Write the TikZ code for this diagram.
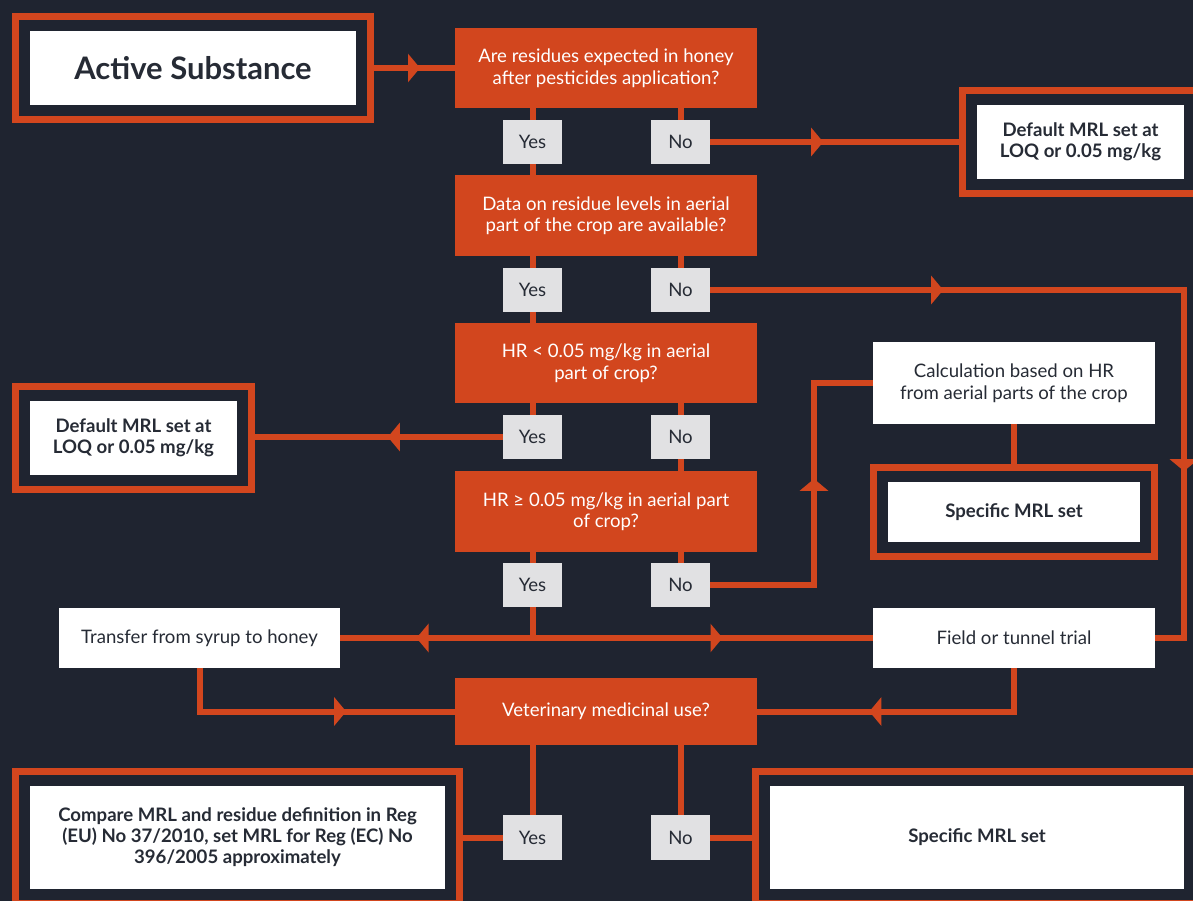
\documentclass[tikz,border=0pt]{standalone}
\usepackage{fontspec}
\setmainfont{Lato}
\usetikzlibrary{arrows.meta,decorations.markings}
\definecolor{bg}{HTML}{1F2430}
\definecolor{org}{HTML}{D2461E}
\definecolor{gry}{HTML}{E1E1E3}
\definecolor{dk}{HTML}{262B35}
\tikzset{
  conn/.style={draw=org, line width=6pt},
  arrat/.style={postaction={decorate,decoration={markings,
      mark=at position #1 with {\arrow[color=org]{Triangle[width=28pt,length=12pt]}}}}},
  qbox/.style={fill=org, text=white, inner sep=0pt, minimum width=302pt, align=center,
      font=\fontsize{18.6}{21.5}\selectfont},
  yn/.style={fill=gry, text=dk, inner sep=0pt, minimum width=59pt, minimum height=44pt,
      font=\fontsize{18.6}{21.5}\selectfont},
  wbox/.style={fill=white, text=dk, inner sep=0pt, align=center,
      font=\fontsize{18.6}{21.5}\selectfont},
  bwbox/.style={wbox, font=\fontsize{18.6}{21}\selectfont\bfseries},
  frame/.style={draw=org, line width=7pt, inner sep=0pt},
}
\begin{document}
\begin{tikzpicture}[x=1pt,y=-1pt]
\useasboundingbox (0,0) rectangle (1193,901);
\fill[bg] (0,0) rectangle (1193,901);
\clip (0,0) rectangle (1193,901);

% frames
\node[frame, minimum width=355pt, minimum height=103pt] (ActF) at (193,68) {};
\node[frame, minimum width=249pt, minimum height=103pt] (TRF) at (1087,142) {};
\node[frame, minimum width=236pt, minimum height=103pt] (LF) at (133.5,438) {};
\node[frame, minimum width=281pt, minimum height=89pt] (SMF) at (1014,512) {};
\node[frame, minimum width=444pt, minimum height=132pt] (CmpF) at (237.5,837.5) {};
\node[frame, minimum width=456pt, minimum height=132pt] (SBF) at (983.5,837.5) {};

% white boxes
\node[bwbox, minimum width=326pt, minimum height=74pt, font=\fontsize{31}{35}\selectfont\bfseries] (Act) at (193,68) {Active Substance};
\node[bwbox, minimum width=207pt, minimum height=74pt] (TRD) at (1080.5,142) {Default MRL set at\\LOQ or 0.05 mg/kg};
\node[bwbox, minimum width=207pt, minimum height=74pt] (LD) at (133.5,438) {Default MRL set at\\LOQ or 0.05 mg/kg};
\node[bwbox, minimum width=252pt, minimum height=60pt] (SM) at (1014,512) {Specific MRL set};
\node[bwbox, minimum width=415pt, minimum height=103pt] (Cmp) at (237.5,837.5) {Compare MRL and residue definition in Reg\\(EU) No 37/2010, set MRL for Reg (EC) No\\396/2005 approximately};
\node[bwbox, minimum width=414pt, minimum height=103pt] (SB) at (977,837.5) {Specific MRL set};
\node[wbox, minimum width=282pt, minimum height=82pt] (Calc) at (1014,383) {Calculation based on HR\\from aerial parts of the crop};
\node[wbox, minimum width=281pt, minimum height=60pt] (Tr) at (199.5,638) {Transfer from syrup to honey};
\node[wbox, minimum width=282pt, minimum height=60pt] (Fld) at (1014,638) {Field or tunnel trial};

% questions
\node[qbox, minimum height=80pt] (Q1) at (606,68) {Are residues expected in honey\\after pesticides application?};
\node[qbox, minimum height=81pt] (Q2) at (606,215.5) {Data on residue levels in aerial\\part of the crop are available?};
\node[qbox, minimum height=80pt] (Q3) at (606,363) {HR < 0.05 mg/kg in aerial\\part of crop?};
\node[qbox, minimum height=81pt] (Q4) at (606,511.5) {HR ≥ 0.05 mg/kg in aerial part\\of crop?};
\node[qbox, minimum height=67pt] (Q5) at (606,711.5) {Veterinary medicinal use?};

% yes / no
\node[yn] (Y1) at (532.5,142) {Yes};
\node[yn] (N1) at (680.5,142) {No};
\node[yn] (Y2) at (532.5,290) {Yes};
\node[yn] (N2) at (680.5,290) {No};
\node[yn] (Y3) at (532.5,437) {Yes};
\node[yn] (N3) at (680.5,437) {No};
\node[yn] (Y4) at (532.5,585) {Yes};
\node[yn] (N4) at (680.5,585) {No};
\node[yn, minimum height=45pt] (Y5) at (532.5,837.5) {Yes};
\node[yn, minimum height=45pt] (N5) at (680.5,837.5) {No};

\coordinate (RC) at (1184,290);
\coordinate (CL) at (814,585);
\coordinate (J) at (Y4.south |- Tr.east);

% connectors
\draw[conn, arrat=46pt] (ActF.east) -- (Q1.west);
\draw[conn] (Y1.north |- Q1.south) -- (Y1.north);
\draw[conn] (N1.north |- Q1.south) -- (N1.north);
\draw[conn] (Y1.south) -- (Y1.south |- Q2.north);
\draw[conn, arrat=113pt] (N1.east) -- (N1.east -| TRF.west);

\draw[conn] (Y2.north |- Q2.south) -- (Y2.north);
\draw[conn] (N2.north |- Q2.south) -- (N2.north);
\draw[conn] (Y2.south) -- (Y2.south |- Q3.north);
\draw[conn, arrat=233pt, arrat=655pt] (N2.east) -- (RC) |- (Fld.east);

\draw[conn] (Y3.north |- Q3.south) -- (Y3.north);
\draw[conn] (N3.north |- Q3.south) -- (N3.north);
\draw[conn] (N3.south) -- (N3.south |- Q4.north);
\draw[conn, arrat=115pt] (Y3.west) -- (Y3.west -| LF.east);

\draw[conn] (Y4.north |- Q4.south) -- (Y4.north);
\draw[conn] (N4.north |- Q4.south) -- (N4.north);
\draw[conn, arrat=210pt] (N4.east) -- (CL) |- (Calc.west);
\draw[conn] (Calc.south) -- (SMF.north);
\draw[conn] (Y4.south) -- (J);
\draw[conn, arrat=116pt] (J) -- (Tr.east);
\draw[conn, arrat=190pt] (J) -- (Fld.west);
\draw[conn, arrat=190pt] (Tr.south) |- (Q5.west);
\draw[conn, arrat=188pt] (Fld.south) |- (Q5.east);

\draw[conn] (Y5.north |- Q5.south) -- (Y5.north);
\draw[conn] (N5.north |- Q5.south) -- (N5.north);
\draw[conn] (Y5.west) -- (Y5.west -| CmpF.east);
\draw[conn] (N5.east) -- (N5.east -| SBF.west);
\end{tikzpicture}
\end{document}
